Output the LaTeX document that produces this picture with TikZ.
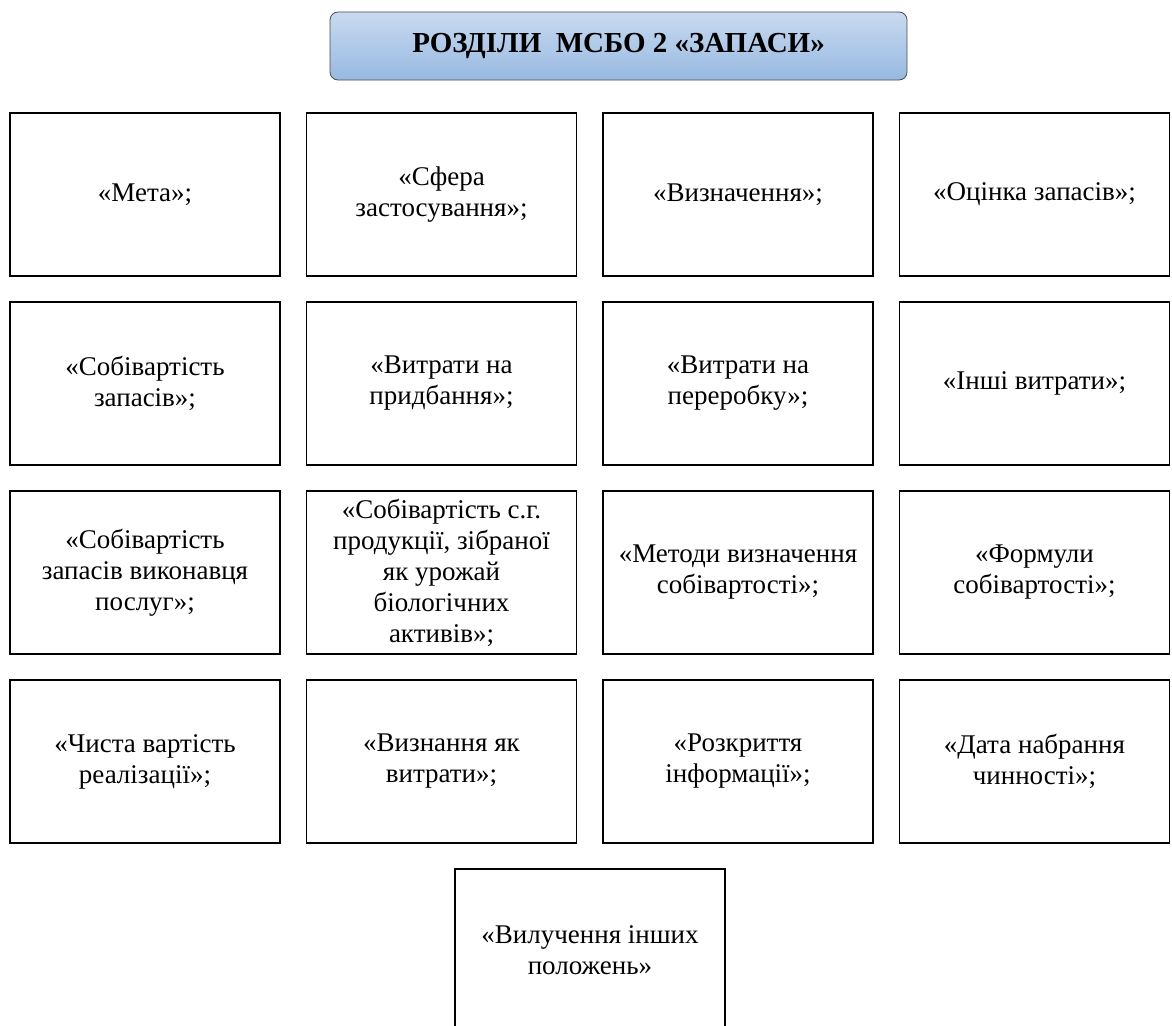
\documentclass[tikz,border=0pt]{standalone}
\usepackage{fontspec}
\setmainfont{Liberation Serif}
\begin{document}
\begin{tikzpicture}[x=1pt,y=-1pt,
  cell/.style={draw=black,line width=1.6pt,minimum width=270pt,minimum height=163pt,align=center,font=\fontsize{27}{31}\selectfont,inner sep=2pt},
  title/.style={draw=black!70,line width=0.8pt,rounded corners=8pt,top color={rgb,255:red,200;green,218;blue,240},bottom color={rgb,255:red,152;green,185;blue,225},minimum width=577pt,minimum height=68pt,font=\bfseries\fontsize{29}{33}\selectfont}]
\useasboundingbox (0,0) rectangle (1172,1025);
\node[title] (t) at (618.5,46) {РОЗДІЛИ\ \ МСБО 2 «ЗАПАСИ»};
\node[cell] (a1) at (145,194.5) {«Мета»;};
\node[cell] (a2) at (441.5,194.5) {«Сфера\\застосування»;};
\node[cell] (a3) at (738,194.5) {«Визначення»;};
\node[cell] (a4) at (1034.5,194.5) {«Оцінка запасів»;};
\node[cell] (b1) at (145,383.5) {«Собівартість\\запасів»;};
\node[cell] (b2) at (441.5,383.5) {«Витрати на\\придбання»;};
\node[cell] (b3) at (738,383.5) {«Витрати на\\переробку»;};
\node[cell] (b4) at (1034.5,383.5) {«Інші витрати»;};
\node[cell] (c1) at (145,572.5) {«Собівартість\\запасів виконавця\\послуг»;};
\node[cell] (c2) at (441.5,572.5) {«Собівартість с.г.\\продукції, зібраної\\як урожай\\біологічних\\активів»;};
\node[cell] (c3) at (738,572.5) {«Методи визначення\\собівартості»;};
\node[cell] (c4) at (1034.5,572.5) {«Формули\\собівартості»;};
\node[cell] (d1) at (145,761.5) {«Чиста вартість\\реалізації»;};
\node[cell] (d2) at (441.5,761.5) {«Визнання як\\витрати»;};
\node[cell] (d3) at (738,761.5) {«Розкриття\\інформації»;};
\node[cell] (d4) at (1034.5,761.5) {«Дата набрання\\чинності»;};
\node[cell] (e) at (590,950.5) {«Вилучення інших\\положень»};
\end{tikzpicture}
\end{document}
